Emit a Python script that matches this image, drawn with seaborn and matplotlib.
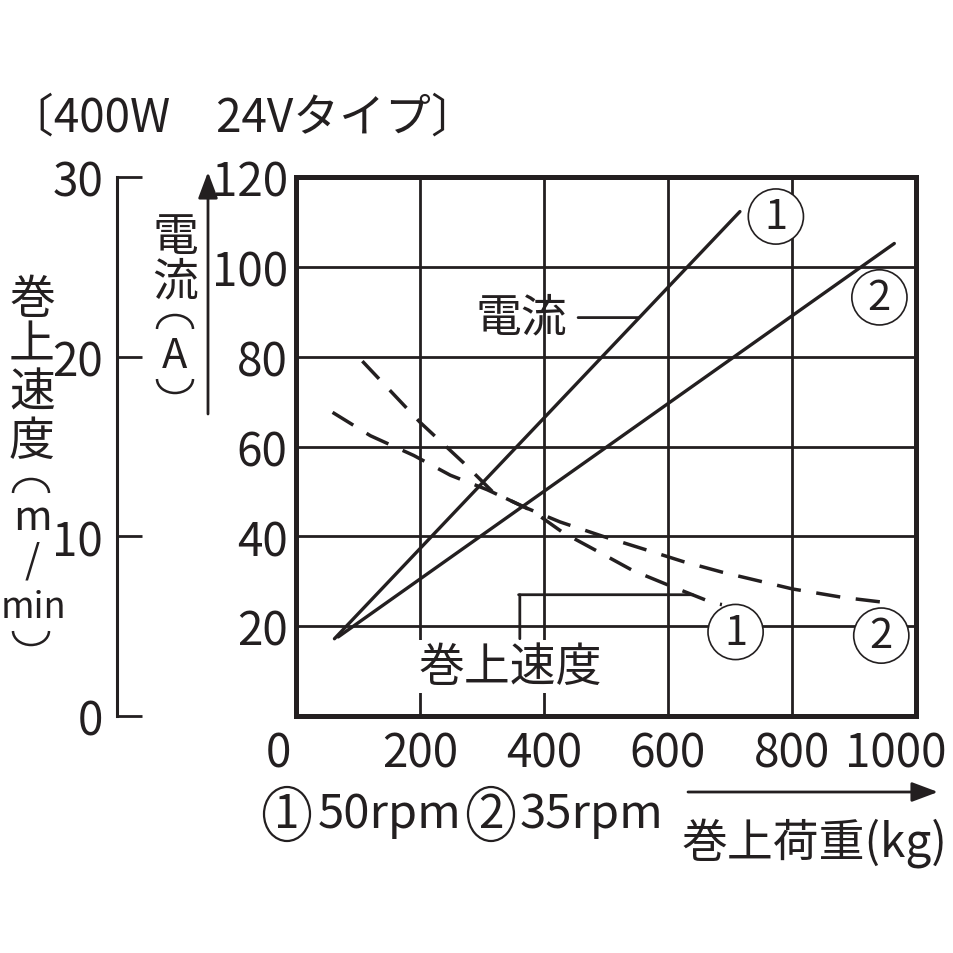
import matplotlib
matplotlib.use('Agg')
import matplotlib.pyplot as plt
import matplotlib.patches as mpatches
import seaborn as sns
import pandas as pd
from matplotlib.transforms import ScaledTranslation

# ---------------- data ----------------
load_ticks = [0, 200, 400, 600, 800, 1000]
current_ticks = [20, 40, 60, 80, 100, 120]
speed_ticks = [0, 10, 20, 30]

# current (A) vs load (kg)
cur1_load = [62, 716]
cur1_amp = [17.2, 112.3]
cur2_load = [68, 965]
cur2_amp = [17.6, 105.2]

# hoisting speed (m/min) vs load (kg)
spd1_load = [107, 200, 270, 318, 382, 431, 490, 543, 603, 672, 687]
spd1_mmin = [19.75, 16.35, 14.1, 12.45, 11.4, 10.2, 9.1, 8.1, 7.25, 6.3, 6.2]
spd2_load = [59, 120, 190, 249, 308, 370, 426, 495, 560, 624, 688, 801, 882, 955]
spd2_mmin = [16.9, 15.6, 14.5, 13.4, 12.6, 11.6, 10.8, 10.0, 9.3, 8.6, 8.0, 7.07, 6.6, 6.3]

title = '〔400W　24Vタイプ〕'
rpm_nums = ['1', '2']
rpm_vals = ['50rpm', '35rpm']
xlabel = '巻上荷重(kg)'

K = '#231f20'
FS = 33
W = H = 954.0

sns.set_style('white')
plt.rcParams['font.family'] = ['Noto Sans CJK JP', 'DejaVu Sans']
plt.rcParams['text.color'] = K

fig = plt.figure(figsize=(9.54, 9.54), dpi=100)
fig.patch.set_facecolor('white')


def fx(px):
    return px / W


def fy(py):
    return 1 - py / H


ax = fig.add_axes([fx(296), fy(717), 620 / W, 539 / H])
ax.set_xlim(0, 1000)
ax.set_ylim(0, 120)
ax.set_xticks(load_ticks)
ax.set_yticks(current_ticks)
ax.set_xticklabels([str(v) for v in load_ticks])
ax.set_yticklabels([str(v) for v in current_ticks])
ax.grid(True, color=K, lw=2.0)
ax.set_axisbelow(True)
for s in ax.spines.values():
    s.set_linewidth(3.6)
    s.set_color(K)
ax.tick_params(axis='both', length=0, labelsize=FS, labelcolor=K)
ax.tick_params(axis='x', pad=9)
ax.tick_params(axis='y', pad=6)

# shift end x tick labels like the reference
xt = ax.get_xticklabels()
xt[0].set_transform(xt[0].get_transform() + ScaledTranslation(-18 / 100, 0, fig.dpi_scale_trans))
xt[-1].set_transform(xt[-1].get_transform() + ScaledTranslation(-20 / 100, 0, fig.dpi_scale_trans))

# current lines
sns.lineplot(x=cur1_load, y=cur1_amp, ax=ax, color=K, lw=2.4)
sns.lineplot(x=cur2_load, y=cur2_amp, ax=ax, color=K, lw=2.4)
ax.set_xlabel('')
ax.set_ylabel('')

# speed axis (left, outward)
axs = ax.twinx()
axs.set_ylim(0, 30)
axs.set_yticks(speed_ticks)
axs.set_yticklabels([str(v) for v in speed_ticks])
axs.yaxis.tick_left()
for k in ['top', 'right', 'bottom']:
    axs.spines[k].set_visible(False)
axs.spines['left'].set_position(('outward', (296 - 117) * 0.72))
axs.spines['left'].set_bounds(0, 30)
axs.spines['left'].set_linewidth(2.2)
axs.spines['left'].set_color(K)
axs.tick_params(axis='y', direction='in', length=18, width=2.0, color=K,
                labelsize=FS, labelcolor=K, pad=10)
axs.grid(False)

sns.lineplot(x=spd1_load, y=spd1_mmin, ax=axs, color=K, lw=2.5, linestyle=(0, (7, 4.5)))
sns.lineplot(x=spd2_load, y=spd2_mmin, ax=axs, color=K, lw=2.5, linestyle=(0, (7, 4.5)))
axs.set_xlabel('')
axs.set_ylabel('')

# circled labels
circ = dict(boxstyle='circle,pad=0.17', fc='white', ec=K, lw=1.2)
for (x, y, t) in [(774, 111.2, '1'), (941, 93.2, '2'), (709, 18.7, '1'), (944, 17.9, '2')]:
    axs.text(x, y, t, transform=ax.transData, ha='center', va='center',
             fontsize=30, bbox=circ, zorder=10)

# 電流 label with leader
axs.text(363, 88.9, '電流', transform=ax.transData, ha='center', va='center',
         fontsize=FS, zorder=10)
axs.annotate('', xy=(553, 88.7), xytext=(455, 88.7), xycoords=ax.transData,
             textcoords=ax.transData,
             arrowprops=dict(arrowstyle='-', color=K, lw=2.0, shrinkA=0, shrinkB=0))

# 巻上速度 label with bracket
axs.text(345, 11.0, '巻上速度', transform=ax.transData, ha='center', va='center',
         fontsize=FS, zorder=10,
         bbox=dict(boxstyle='square,pad=0.05', fc='white', ec='none'))
axs.annotate('', xy=(361, 27.0), xytext=(361, 17.2), xycoords=ax.transData,
             textcoords=ax.transData,
             arrowprops=dict(arrowstyle='-', color=K, lw=2.0, shrinkA=0, shrinkB=0))
axs.annotate('', xy=(640, 27.0), xytext=(359, 27.0), xycoords=ax.transData,
             textcoords=ax.transData,
             arrowprops=dict(arrowstyle='-', color=K, lw=2.0, shrinkA=0, shrinkB=0))

# title
fig.text(fx(8), fy(118), title, ha='left', va='center', fontsize=FS)


def vstack(x, items):
    for ch, y, fs in items:
        fig.text(fx(x), fy(y), ch, ha='center', va='center', fontsize=fs)


def vparen(x, y, top, w=36, h=28):
    # vertical-writing parenthesis drawn as a half ellipse (pixel coords)
    t1, t2 = (0, 180) if top else (180, 360)
    fig.add_artist(mpatches.Arc((x, H - y), w, h, theta1=t1, theta2=t2,
                                transform=None, color=K, lw=1.8))


vstack(32, [('巻', 300, FS), ('上', 345, FS), ('速', 393, FS), ('度', 442, FS),
            ('m', 518, 30), ('/', 562, 28)])
vstack(33, [('min', 608, 26)])
vparen(31, 494, True)
vparen(31, 632, False)
vstack(175, [('電', 238, FS), ('流', 282, FS), ('A', 356, 30)])
vparen(175, 330, True)
vparen(175, 380, False)

# current arrow
arrow = dict(arrowstyle='-|>,head_length=0.8,head_width=0.3', color=K, lw=2.0,
             mutation_scale=20, shrinkA=0, shrinkB=0)
fig.add_artist(mpatches.FancyArrowPatch((208, H - 415), (208, H - 173),
                                        transform=None, **arrow))
# load arrow
fig.add_artist(mpatches.FancyArrowPatch((688, H - 793), (938, H - 793),
                                        transform=None, **arrow))

# ① 50rpm ② 35rpm
for cx, num, tx, val in [(287, rpm_nums[0], 318, rpm_vals[0]),
                         (491, rpm_nums[1], 520, rpm_vals[1])]:
    fig.add_artist(mpatches.Ellipse((cx, H - 815), 46, 54, transform=None,
                                    fill=False, ec=K, lw=1.6))
    fig.text(fx(cx), fy(815), num, ha='center', va='center', fontsize=FS)
    fig.text(fx(tx), fy(815), val, ha='left', va='center', fontsize=34)
fig.text(fx(814), fy(843), xlabel, ha='center', va='center', fontsize=FS)

fig.savefig('out.png', dpi=100, facecolor='white')
